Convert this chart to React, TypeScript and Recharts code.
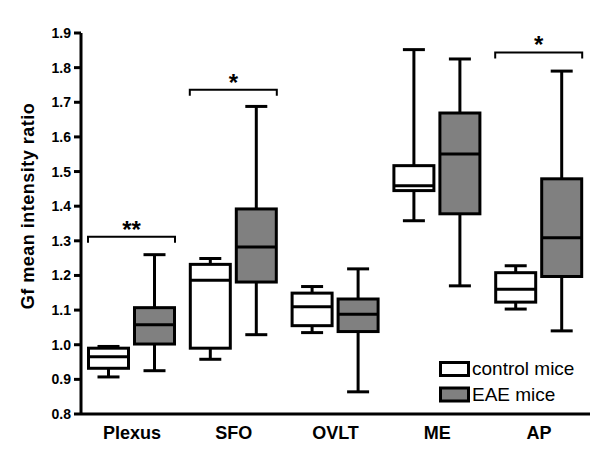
import React from 'react';
import { ComposedChart, Bar, XAxis, YAxis, Legend } from 'recharts';

const FONT = '"Liberation Sans", Arial, Helvetica, sans-serif';

const categories = ['Plexus', 'SFO', 'OVLT', 'ME', 'AP'];

// control mice: whiskers, quartiles, median
const controlMin = [0.907, 0.958, 1.035, 1.358, 1.103];
const controlQ1 = [0.932, 0.99, 1.055, 1.445, 1.123];
const controlMedian = [0.965, 1.186, 1.11, 1.459, 1.16];
const controlQ3 = [0.99, 1.232, 1.149, 1.517, 1.208];
const controlMax = [0.995, 1.249, 1.168, 1.852, 1.228];

// EAE mice
const eaeMin = [0.925, 1.029, 0.864, 1.17, 1.04];
const eaeQ1 = [1.002, 1.181, 1.038, 1.378, 1.197];
const eaeMedian = [1.058, 1.282, 1.088, 1.551, 1.309];
const eaeQ3 = [1.107, 1.392, 1.132, 1.669, 1.479];
const eaeMax = [1.26, 1.688, 1.219, 1.825, 1.79];

// significance brackets
const significance = ['**', '*', '', '', '*'];
const bracketLevel: (number | null)[] = [1.312, 1.736, null, null, 1.844];

const yTicks = [0.8, 0.9, 1.0, 1.1, 1.2, 1.3, 1.4, 1.5, 1.6, 1.7, 1.8, 1.9];

const data = categories.map((name, i) => ({
  name,
  control: [controlMin[i], controlMax[i]],
  eae: [eaeMin[i], eaeMax[i]],
  controlStats: { min: controlMin[i], q1: controlQ1[i], median: controlMedian[i], q3: controlQ3[i], max: controlMax[i] },
  eaeStats: { min: eaeMin[i], q1: eaeQ1[i], median: eaeMedian[i], q3: eaeQ3[i], max: eaeMax[i] },
  sig: significance[i],
  bracket: bracketLevel[i],
}));

const BAR_SIZE = 43;
const BAR_GAP = 3;
const CAP = 11;

const makeBox = (key: 'controlStats' | 'eaeStats', fill: string, withBracket: boolean) => (props: any) => {
  const { x, y, width, height, payload } = props;
  const s = payload[key];
  const top = Math.min(y, y + height);
  const bottom = Math.max(y, y + height);
  // map values to pixels from the bar's own range (min..max)
  const toPx = (v: number) => bottom - ((v - s.min) / (s.max - s.min)) * (bottom - top);
  const cx = x + width / 2;
  const q3 = toPx(s.q3);
  const q1 = toPx(s.q1);
  const med = toPx(s.median);

  let bracket = null;
  if (withBracket && payload.bracket != null) {
    const by = toPx(payload.bracket);
    const left = x - BAR_GAP - width + 1;
    const right = x + width - 1;
    bracket = (
      <g>
        <path d={`M${left},${by + 6}V${by}H${right}V${by + 6}`} fill="none" stroke="#000" strokeWidth={2} />
        <text
          x={(left + right) / 2}
          y={by + 1}
          textAnchor="middle"
          fontFamily={FONT}
          fontWeight="bold"
          fontSize={24}
          fill="#000"
        >
          {payload.sig}
        </text>
      </g>
    );
  }

  return (
    <g>
      <line x1={cx} x2={cx} y1={top} y2={bottom} stroke="#000" strokeWidth={3} />
      <line x1={cx - CAP} x2={cx + CAP} y1={top} y2={top} stroke="#000" strokeWidth={3} />
      <line x1={cx - CAP} x2={cx + CAP} y1={bottom} y2={bottom} stroke="#000" strokeWidth={3} />
      <rect x={x + 1.5} y={q3} width={width - 3} height={q1 - q3} fill={fill} stroke="#000" strokeWidth={3} />
      <line x1={x + 1.5} x2={x + width - 1.5} y1={med} y2={med} stroke="#000" strokeWidth={3} />
      {bracket}
    </g>
  );
};

const ControlBox = makeBox('controlStats', '#ffffff', false);
const EaeBox = makeBox('eaeStats', '#808080', true);

const LegendBox = () => (
  <svg width={160} height={50} style={{ display: 'block' }}>
    <rect x={4.5} y={5.5} width={28} height={13} fill="#fff" stroke="#000" strokeWidth={3} />
    <text x={36} y={18} fontFamily={FONT} fontSize={19} fill="#000">control mice</text>
    <rect x={4.5} y={31} width={28} height={13} fill="#808080" stroke="#000" strokeWidth={3} />
    <text x={36} y={44} fontFamily={FONT} fontSize={19} fill="#000">EAE mice</text>
  </svg>
);

const YLabel = () => (
  <text
    x={34}
    y={206}
    transform="rotate(-90, 34, 206)"
    textAnchor="middle"
    fontFamily={FONT}
    fontWeight="bold"
    fontSize={18}
    letterSpacing={0.5}
    fill="#000"
  >
    Gf mean intensity ratio
  </text>
);

export default function App() {
  return (
    <div style={{ position: 'absolute', left: 0, top: 0, width: 600, height: 460, background: '#fff' }}>
      <ComposedChart
        width={600}
        height={460}
        data={data}
        margin={{ top: 33, right: 10, bottom: 0, left: 0 }}
        barSize={BAR_SIZE}
        barGap={BAR_GAP}
      >
        <XAxis
          dataKey="name"
          axisLine={{ stroke: '#000', strokeWidth: 3 }}
          tickLine={false}
          tickSize={6}
          tickMargin={6}
          height={46}
          tick={{ fill: '#000', fontFamily: FONT, fontWeight: 'bold', fontSize: 18 }}
          interval={0}
        />
        <YAxis
          type="number"
          domain={[0.8, 1.9]}
          ticks={yTicks}
          width={81}
          tickFormatter={(v: number) => v.toFixed(1)}
          axisLine={{ stroke: '#000', strokeWidth: 3 }}
          tickLine={{ stroke: '#000', strokeWidth: 3 }}
          tickSize={7}
          tickMargin={3}
          tick={{ fill: '#000', fontFamily: FONT, fontWeight: 'bold', fontSize: 14 }}
          allowDataOverflow
          label={{ content: () => <YLabel /> }}
        />
        <Legend
          layout="vertical"
          align="center"
          verticalAlign="middle"
          wrapperStyle={{ left: 436, top: 357, width: 160 }}
          content={() => <LegendBox />}
        />
        <Bar dataKey="control" name="control mice" shape={ControlBox} isAnimationActive={false} />
        <Bar dataKey="eae" name="EAE mice" shape={EaeBox} isAnimationActive={false} />
      </ComposedChart>
    </div>
  );
}
